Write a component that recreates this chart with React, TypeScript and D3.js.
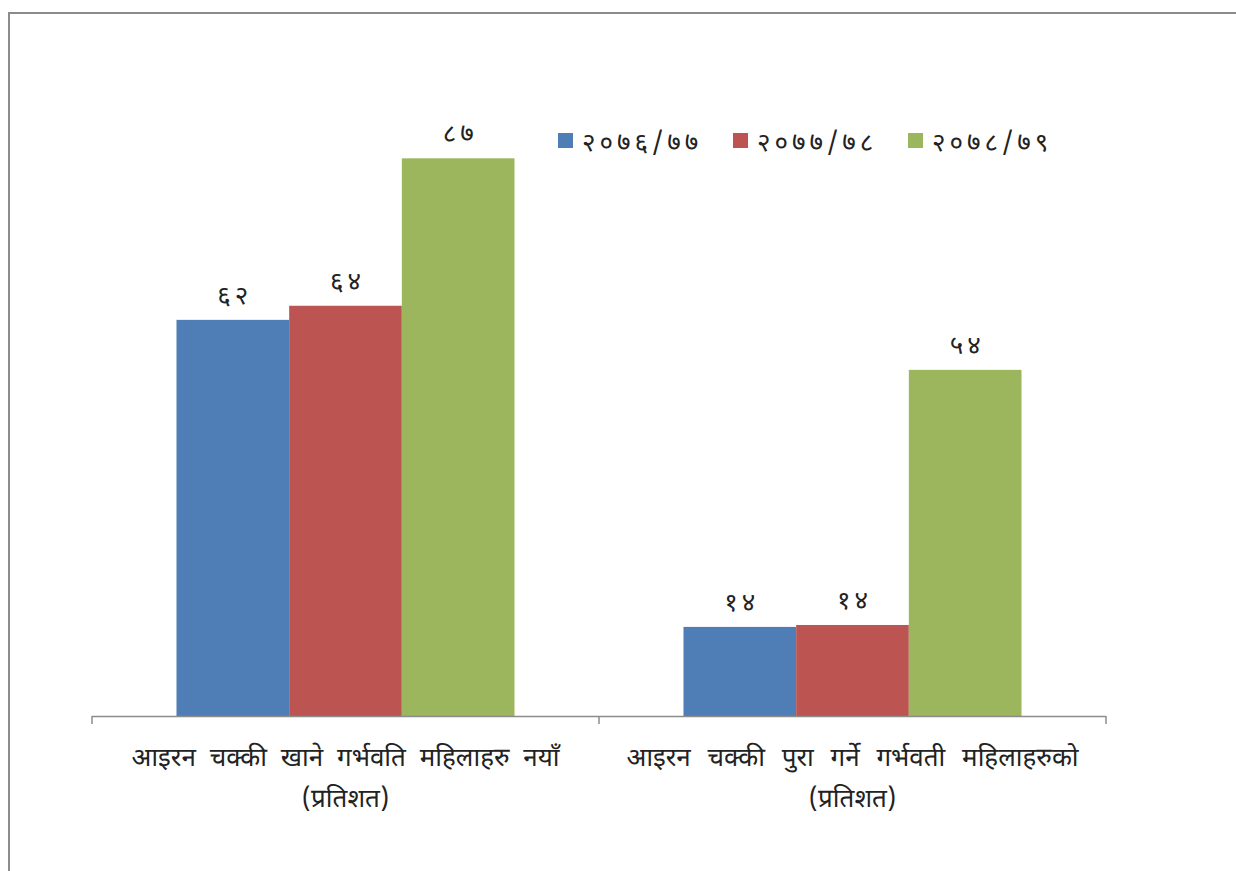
import React from "react";
import * as d3 from "d3";

const categories = [
  ["आइरन चक्की खाने गर्भवति महिलाहरु नयाँ", "(प्रतिशत)"],
  ["आइरन चक्की पुरा गर्ने गर्भवती महिलाहरुको", "(प्रतिशत)"],
];
const seriesNames = ["२०७६/७७", "२०७७/७८", "२०७८/७९"];
const series1 = [61.8, 13.9];
const series2 = [64, 14.2];
const series3 = [87, 54];
const colors = ["#4f7db5", "#bc5452", "#9bb65d"];

const toDev = (n: number) =>
  String(Math.round(n)).replace(/[0-9]/g, (d) => "०१२३४५६७८९"[+d]);

const FONT = "'Noto Sans Devanagari', 'Lohit Devanagari', 'Noto Sans', 'DejaVu Sans', sans-serif";

export default function App() {
  const W = 1236, H = 871;
  const data = [series1, series2, series3];
  const x0 = d3.scaleBand<number>().domain([0, 1]).range([92, 1106]).paddingInner(1 / 3).paddingOuter(1 / 6);
  const x1 = d3.scaleBand<number>().domain([0, 1, 2]).range([0, x0.bandwidth()]);
  const y = d3.scaleLinear().domain([0, 100]).range([716, 75]);
  const groupEdges = [92, 599, 1106];
  const legendX = [558, 733, 908];
  return (
    <svg width={W} height={H} style={{ position: "absolute", left: 0, top: 0 }} fontFamily={FONT}>
      <rect x={0} y={0} width={W} height={H} fill="#fff" />
      <rect x={9} y={13} width={1260} height={900} fill="none" stroke="#8c8c8c" strokeWidth={2} />
      {data.map((s, si) =>
        s.map((v, ci) => {
          const bx = (x0(ci) as number) + (x1(si) as number);
          return (
            <g key={`${si}-${ci}`}>
              <rect x={bx} y={y(v)} width={x1.bandwidth()} height={y(0) - y(v)} fill={colors[si]} />
              <text x={bx + x1.bandwidth() / 2 + 2} y={y(v) - 16} textAnchor="middle" fontSize={26} letterSpacing={4} fill="#222">
                {toDev(v)}
              </text>
            </g>
          );
        })
      )}
      <line x1={92} x2={1106} y1={716.5} y2={716.5} stroke="#8c8c8c" strokeWidth={1.5} />
      {groupEdges.map((gx) => (
        <line key={gx} x1={gx} x2={gx} y1={716} y2={724} stroke="#8c8c8c" strokeWidth={1.5} />
      ))}
      {categories.map((lines, ci) => {
        const cx = (groupEdges[ci] + groupEdges[ci + 1]) / 2;
        return (
          <text key={ci} x={cx} textAnchor="middle" fontSize={26} wordSpacing={ci === 0 ? 7 : 10} fill="#222">
            {lines.map((l, li) => (
              <tspan key={li} x={cx} y={766 + li * 41}>{l}</tspan>
            ))}
          </text>
        );
      })}
      {seriesNames.map((n, i) => (
        <g key={n}>
          <rect x={legendX[i]} y={133} width={15} height={15} fill={colors[i]} />
          <text x={legendX[i] + 24} y={151} fontSize={26} letterSpacing={4} fill="#222">{n}</text>
        </g>
      ))}
    </svg>
  );
}
